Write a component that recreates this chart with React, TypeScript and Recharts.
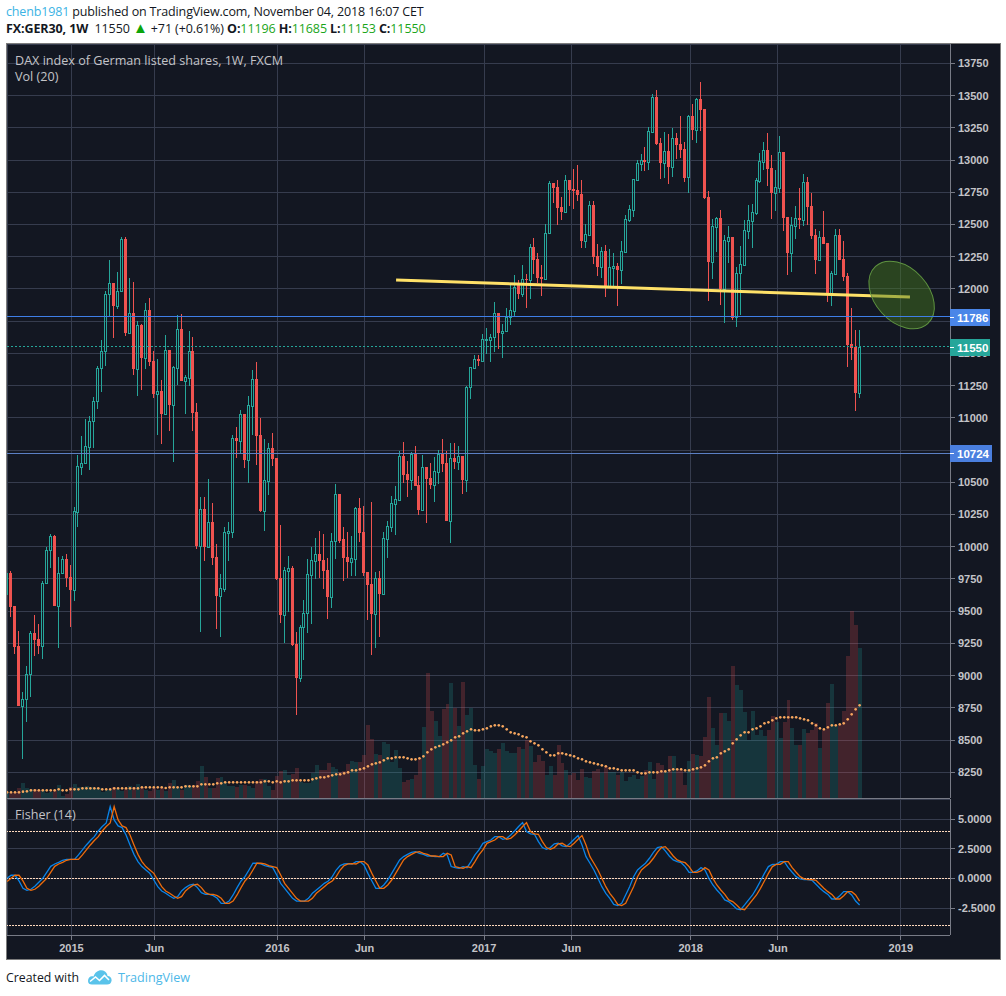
// App.tsx - DAX weekly candles with volume and Fisher panes
import { ComposedChart, Bar, Line, XAxis, YAxis, CartesianGrid, ReferenceLine, ReferenceDot } from 'recharts';

const BG = '#131722';
const GRID = '#363c4e';
const UP = '#26a69a';
const DOWN = '#ef5350';
const AXIS_TEXT = '#c4c4c8';
const AXIS_LINE = '#787b86';

const opens = [
  9636, 9796, 9540, 9230, 8765, 8816, 9010, 9328, 9284, 9233,
  9716, 9972, 10084, 9543, 9794, 9905, 9765, 9667, 10272, 10622,
  10647, 10777, 10973, 11128, 11384, 11516, 11958, 12044, 11870, 11982,
  12388, 11661, 11811, 11379, 11720, 11467, 11834, 11441, 11185, 11208,
  11030, 11527, 11100, 11387, 11689, 11288, 11312, 11519, 11046, 10006,
  10290, 10000, 10192, 9921, 9618, 9672, 10107, 10117, 10844, 10822,
  11030, 10673, 11095, 11299, 10867, 10277, 10513, 10764, 10689, 9758,
  9473, 9815, 9835, 9246, 8982, 9375, 9484, 9784, 9892, 9944,
  9898, 9820, 9613, 10042, 10406, 10060, 9920, 9881, 9907, 10300,
  10114, 9804, 9711, 9479, 9758, 9634, 10063, 10153, 10331, 10365,
  10704, 10564, 10518, 10719, 10479, 10285, 10616, 10533, 10479, 10580,
  10719, 10649, 10200, 10688, 10657, 10704, 10518, 11236, 11386, 11454,
  11443, 11604, 11604, 11624, 11811, 11661, 11671, 11785, 11831, 12033,
  11961, 12075, 12069, 12323, 12232, 12093, 12080, 12431, 12819, 12791,
  12636, 12597, 12843, 12775, 12768, 12737, 12372, 12419, 12651, 12256,
  12170, 12294, 12015, 12163, 12178, 12147, 12289, 12535, 12615, 12848,
  12972, 13000, 12987, 13218, 13487, 13130, 12977, 13070, 12946, 13168,
  13125, 13086, 12866, 13342, 13233, 13474, 13396, 12713, 12209, 12483,
  12550, 12000, 12375, 12400, 11780, 12121, 12188, 12452, 12530, 12592,
  12840, 12985, 13075, 12938, 12747, 12783, 13062, 12558, 12279, 12491,
  12550, 12537, 12830, 12643, 12418, 12225, 12403, 12356, 11961, 12119,
  12418, 12232, 12100, 11573, 11550, 11196,
];

const highs = [
  9800, 9812, 9540, 9347, 8873, 9075, 9347, 9471, 9401, 9734,
  9998, 10099, 10091, 9918, 9928, 9944, 9859, 10306, 10712, 10859,
  10991, 11015, 11159, 11402, 11604, 11984, 12225, 12044, 12132, 12403,
  12403, 12085, 12054, 11752, 11728, 11891, 11930, 11519, 11457, 11294,
  11643, 11527, 11402, 11798, 11806, 11333, 11674, 11627, 11115, 10386,
  10386, 10526, 10340, 10021, 9789, 10153, 10192, 10867, 10929, 11061,
  11030, 11170, 11371, 11433, 10999, 10836, 10803, 10880, 10689, 10169,
  9840, 9928, 9851, 9339, 9395, 9587, 9903, 9998, 10068, 10122,
  10099, 9913, 10107, 10486, 10406, 10153, 10114, 10083, 10308, 10378,
  10316, 9804, 10347, 9804, 9812, 10114, 10200, 10393, 10471, 10743,
  10812, 10665, 10735, 10781, 10549, 10711, 10616, 10649, 10696, 10750,
  10836, 10743, 10805, 10805, 10781, 10704, 11247, 11392, 11487, 11487,
  11650, 11697, 11650, 11898, 11811, 11725, 11852, 12031, 12108, 12069,
  12186, 12116, 12349, 12395, 12279, 12186, 12504, 12837, 12819, 12845,
  12713, 12884, 12843, 12930, 12962, 12845, 12504, 12682, 12682, 12349,
  12325, 12341, 12310, 12279, 12201, 12372, 12574, 12651, 12850, 13000,
  13047, 13101, 13256, 13512, 13543, 13171, 13218, 13202, 13249, 13210,
  13342, 13140, 13352, 13435, 13481, 13605, 13396, 12760, 12543, 12558,
  12612, 12419, 12488, 12400, 12170, 12333, 12535, 12651, 12659, 12861,
  13055, 13140, 13210, 13039, 12923, 13187, 13062, 12558, 12558, 12643,
  12783, 12892, 12868, 12744, 12465, 12450, 12605, 12356, 12139, 12465,
  12465, 12372, 12124, 11852, 11682, 11685,
];

const lows = [
  9630, 9458, 9171, 8765, 8356, 8643, 8835, 9153, 9171, 9129,
  9716, 9835, 9543, 9215, 9794, 9688, 9378, 9582, 10153, 10557,
  10647, 10598, 10766, 11071, 11201, 11402, 11790, 11622, 11847, 11982,
  11635, 11661, 11333, 11170, 11216, 11379, 11402, 11154, 10867, 10797,
  11030, 10898, 10658, 11255, 11286, 11030, 11247, 10898, 9983, 9339,
  9890, 10000, 9859, 9362, 9300, 9649, 9890, 10068, 10689, 10720,
  10611, 10495, 10867, 10634, 10270, 10122, 10402, 10627, 9740, 9409,
  9253, 9494, 9233, 8695, 8950, 9120, 9334, 9401, 9750, 9758,
  9672, 9440, 9525, 9905, 10029, 9735, 9757, 9773, 9773, 10037,
  9773, 9432, 9160, 9215, 9300, 9634, 9913, 10114, 10091, 10365,
  10494, 10386, 10440, 10471, 10246, 10285, 10184, 10448, 10347, 10486,
  10580, 10200, 10029, 10603, 10595, 10409, 10424, 11146, 11386, 11402,
  11443, 11495, 11433, 11511, 11534, 11467, 11671, 11720, 11790, 11922,
  11938, 11852, 11922, 12116, 12046, 11945, 12080, 12431, 12667, 12496,
  12535, 12597, 12643, 12620, 12682, 12318, 12318, 12419, 12194, 12100,
  12085, 11938, 12015, 12015, 11868, 12038, 12289, 12519, 12558, 12848,
  12915, 12915, 12923, 13210, 13117, 12853, 12861, 12814, 12868, 13008,
  13016, 12830, 12744, 13155, 13132, 13225, 12698, 11906, 12077, 12287,
  11875, 11736, 12200, 11759, 11705, 11798, 12188, 12387, 12318, 12574,
  12822, 12923, 12799, 12543, 12605, 12744, 12450, 12108, 12131, 12387,
  12465, 12488, 12496, 12387, 12116, 12225, 12349, 11899, 11868, 12119,
  12225, 12062, 11394, 11449, 11053, 11153,
];

const closes = [
  9796, 9535, 9225, 8765, 8816, 9010, 9328, 9277, 9230, 9719,
  9975, 10084, 9543, 9794, 9905, 9758, 9665, 10275, 10624, 10647,
  10779, 10973, 11128, 11384, 11516, 11958, 12044, 11870, 11982, 12388,
  11661, 11811, 11379, 11718, 11464, 11834, 11433, 11185, 11208, 11030,
  11527, 11100, 11395, 11689, 11286, 11317, 11519, 11038, 10006, 10290,
  10000, 10192, 9913, 9618, 9677, 10114, 10122, 10841, 10820, 11027,
  10673, 11097, 11299, 10859, 10277, 10515, 10764, 10681, 9750, 9471,
  9820, 9835, 9238, 8982, 9375, 9484, 9789, 9898, 9944, 9892,
  9812, 9610, 10042, 10406, 10046, 9912, 9881, 9910, 10298, 10106,
  9796, 9704, 9479, 9755, 9634, 10068, 10161, 10337, 10368, 10704,
  10556, 10518, 10719, 10471, 10285, 10616, 10525, 10479, 10585, 10719,
  10642, 10200, 10686, 10657, 10704, 10518, 11236, 11392, 11454, 11441,
  11609, 11609, 11624, 11811, 11661, 11671, 11785, 11837, 12018, 11961,
  12075, 12069, 12323, 12225, 12085, 12077, 12431, 12819, 12783, 12628,
  12597, 12843, 12768, 12760, 12729, 12372, 12424, 12651, 12248, 12170,
  12294, 12015, 12170, 12178, 12147, 12292, 12540, 12618, 12850, 12974,
  12998, 12985, 13225, 13487, 13125, 12977, 13070, 12946, 13168, 13117,
  13078, 12861, 13342, 13233, 13474, 13388, 12706, 12209, 12488, 12550,
  12000, 12377, 12400, 11775, 12121, 12191, 12455, 12532, 12594, 12845,
  12990, 13075, 12930, 12747, 12788, 13062, 12553, 12279, 12496, 12550,
  12535, 12830, 12636, 12411, 12225, 12403, 12349, 11961, 12124, 12416,
  12225, 12093, 11565, 11542, 11193, 11550,
];

const volumes = [
  15, 15, 18, 29, 45, 30, 28, 26, 24, 24,
  16, 18, 24, 39, 6, 12, 33, 42, 32, 32,
  36, 34, 29, 30, 18, 24, 24, 32, 26, 22,
  28, 36, 34, 42, 33, 24, 21, 29, 24, 30,
  22, 45, 54, 32, 23, 38, 36, 38, 51, 96,
  63, 29, 29, 60, 63, 49, 36, 36, 33, 39,
  39, 36, 31, 51, 57, 57, 36, 24, 66, 81,
  84, 69, 72, 90, 49, 46, 44, 74, 98, 83,
  83, 104, 92, 86, 79, 81, 102, 110, 107, 107,
  129, 219, 177, 132, 129, 168, 162, 108, 144, 91,
  48, 54, 57, 69, 120, 213, 375, 261, 231, 187,
  266, 282, 345, 269, 216, 348, 249, 270, 99, 57,
  96, 147, 141, 135, 147, 165, 141, 135, 135, 153,
  147, 174, 156, 108, 129, 111, 69, 96, 69, 159,
  105, 84, 69, 75, 54, 87, 63, 60, 81, 87,
  75, 96, 78, 78, 69, 78, 51, 63, 69, 57,
  66, 84, 108, 57, 105, 99, 78, 126, 126, 84,
  84, 39, 111, 132, 129, 126, 183, 303, 210, 159,
  255, 255, 231, 396, 339, 324, 258, 174, 261, 189,
  204, 186, 204, 246, 228, 180, 228, 294, 210, 159,
  159, 207, 195, 204, 225, 150, 204, 285, 342, 216,
  222, 261, 426, 561, 519, 450,
];

const volumeMa = [
  17, 17, 17, 17, 19, 20, 23, 23, 23, 23,
  23, 23, 23, 26, 23, 23, 26, 26, 26, 29,
  29, 29, 29, 29, 26, 26, 26, 29, 29, 29,
  29, 29, 29, 29, 32, 32, 32, 32, 32, 32,
  30, 32, 32, 32, 32, 35, 35, 35, 35, 41,
  41, 41, 41, 44, 44, 47, 47, 47, 47, 47,
  47, 47, 47, 47, 47, 50, 50, 47, 50, 47,
  50, 50, 53, 53, 53, 53, 53, 56, 59, 62,
  62, 65, 68, 71, 71, 74, 77, 83, 83, 86,
  89, 95, 101, 104, 107, 113, 119, 119, 122, 122,
  122, 119, 116, 116, 119, 125, 137, 146, 152, 156,
  161, 167, 173, 182, 185, 194, 200, 206, 203, 203,
  206, 209, 215, 218, 218, 215, 206, 197, 194, 191,
  185, 182, 170, 164, 158, 146, 137, 128, 128, 134,
  134, 131, 128, 125, 119, 116, 110, 107, 104, 101,
  98, 95, 89, 89, 86, 83, 83, 83, 83, 77,
  74, 74, 77, 77, 77, 80, 80, 83, 86, 86,
  86, 83, 83, 86, 89, 92, 98, 110, 119, 122,
  134, 140, 146, 164, 176, 188, 197, 197, 206, 209,
  215, 224, 227, 233, 239, 242, 242, 242, 242, 242,
  239, 236, 233, 224, 218, 209, 206, 212, 218, 218,
  221, 224, 236, 251, 266, 278,
];

const fisher = [
  0.02, 0.28, 0.28, -0.2, -0.82, -0.99, -0.9, -0.65, -0.31, 0.02,
  0.53, 1.03, 1.23, 1.37, 1.54, 1.62, 1.62, 1.62, 1.99, 2.41,
  2.83, 3.2, 3.53, 4.01, 4.38, 4.69, 6.06, 4.94, 4.43, 4.29,
  3.67, 2.83, 2.04, 1.43, 1.01, 0.72, 0.44, -0.12, -0.68, -1.04,
  -1.24, -1.47, -1.66, -1.52, -1.04, -0.76, -0.54, -0.48, -0.76, -1.19,
  -1.33, -1.33, -1.44, -1.66, -2.08, -2.08, -1.89, -1.38, -0.76, -0.2,
  0.16, 0.72, 1.29, 1.29, 1.23, 1.09, 1.01, 0.92, 0.3, -0.4,
  -0.82, -1.24, -1.66, -1.89, -1.89, -1.89, -1.66, -1.24, -0.96, -0.68,
  -0.4, -0.2, 0.16, 0.72, 1.09, 1.23, 1.26, 1.23, 1.43, 1.43,
  1.15, 0.44, -0.2, -0.82, -0.82, -0.54, -0.12, 0.44, 1.01, 1.57,
  1.85, 2.04, 2.21, 2.27, 2.13, 2.04, 1.9, 1.9, 1.85, 1.85,
  2.13, 1.99, 1.01, 0.92, 0.87, 1.01, 0.92, 1.43, 1.99, 2.41,
  2.97, 3.11, 3.25, 3.53, 3.53, 3.31, 3.39, 3.67, 4.01, 4.38,
  4.71, 3.96, 3.76, 3.73, 3.11, 2.61, 2.47, 2.61, 2.92, 2.97,
  2.75, 2.69, 2.97, 3.31, 3.62, 2.83, 1.85, 1.29, 0.72, 0.02,
  -0.68, -1.24, -1.66, -2.17, -2.28, -2.08, -1.38, -0.68, 0.16, 0.72,
  1.01, 1.29, 1.71, 2.21, 2.61, 2.69, 2.33, 1.9, 1.57, 1.43,
  1.34, 1.01, 0.53, 0.53, 0.64, 0.92, 0.72, 0.02, -0.54, -0.96,
  -1.33, -1.8, -1.94, -2.22, -2.56, -2.62, -2.22, -1.8, -1.38, -0.82,
  -0.2, 0.44, 1.01, 1.2, 1.2, 1.43, 1.43, 0.92, 0.53, 0.16,
  -0.03, -0.09, -0.09, -0.15, -0.48, -0.82, -1.1, -1.33, -1.72, -1.72,
  -1.44, -1.1, -1.1, -1.38, -1.89, -2.22,
];

const fisherTrigger = [
  -0.25, 0.02, 0.28, 0.28, -0.2, -0.82, -0.99, -0.9, -0.65, -0.31,
  0.02, 0.53, 1.03, 1.23, 1.37, 1.54, 1.62, 1.62, 1.62, 1.99,
  2.41, 2.83, 3.2, 3.53, 4.01, 4.38, 4.69, 6.06, 4.94, 4.43,
  4.29, 3.67, 2.83, 2.04, 1.43, 1.01, 0.72, 0.44, -0.12, -0.68,
  -1.04, -1.24, -1.47, -1.66, -1.52, -1.04, -0.76, -0.54, -0.48, -0.76,
  -1.19, -1.33, -1.33, -1.44, -1.66, -2.08, -2.08, -1.89, -1.38, -0.76,
  -0.2, 0.16, 0.72, 1.29, 1.29, 1.23, 1.09, 1.01, 0.92, 0.3,
  -0.4, -0.82, -1.24, -1.66, -1.89, -1.89, -1.89, -1.66, -1.24, -0.96,
  -0.68, -0.4, -0.2, 0.16, 0.72, 1.09, 1.23, 1.26, 1.23, 1.43,
  1.43, 1.15, 0.44, -0.2, -0.82, -0.82, -0.54, -0.12, 0.44, 1.01,
  1.57, 1.85, 2.04, 2.21, 2.27, 2.13, 2.04, 1.9, 1.9, 1.85,
  1.85, 2.13, 1.99, 1.01, 0.92, 0.87, 1.01, 0.92, 1.43, 1.99,
  2.41, 2.97, 3.11, 3.25, 3.53, 3.53, 3.31, 3.39, 3.67, 4.01,
  4.38, 4.71, 3.96, 3.76, 3.73, 3.11, 2.61, 2.47, 2.61, 2.92,
  2.97, 2.75, 2.69, 2.97, 3.31, 3.62, 2.83, 1.85, 1.29, 0.72,
  0.02, -0.68, -1.24, -1.66, -2.17, -2.28, -2.08, -1.38, -0.68, 0.16,
  0.72, 1.01, 1.29, 1.71, 2.21, 2.61, 2.69, 2.33, 1.9, 1.57,
  1.43, 1.34, 1.01, 0.53, 0.53, 0.64, 0.92, 0.72, 0.02, -0.54,
  -0.96, -1.33, -1.8, -1.94, -2.22, -2.56, -2.62, -2.22, -1.8, -1.38,
  -0.82, -0.2, 0.44, 1.01, 1.2, 1.2, 1.43, 1.43, 0.92, 0.53,
  0.16, -0.03, -0.09, -0.09, -0.15, -0.48, -0.82, -1.1, -1.33, -1.72,
  -1.72, -1.44, -1.1, -1.1, -1.38, -1.89,
];

const priceTicks = [
  8250, 8500, 8750, 9000, 9250, 9500, 9750, 10000, 10250, 10500, 10750, 11000,
  11250, 11500, 11750, 12000, 12250, 12500, 12750, 13000, 13250, 13500, 13750,
];
const fisherTicks = [5, 2.5, 0, -2.5];
// week index of each time axis label
const timeTicks = [16.24, 37.18, 68.2, 90.14, 120.3, 142.3, 172.4, 194.4, 225.4];
const timeLabels = ['2015', 'Jun', '2016', 'Jun', '2017', 'Jun', '2018', 'Jun', '2019'];

const necklineWeeks = [98.1, 227.7];
const necklinePrices = [12070, 11937];
const targetWeek = 225.6;
const targetPrice = 11953;

const rows = opens.map((open, i) => ({
  week: i,
  open,
  close: closes[i],
  range: [lows[i], highs[i]],
  volume: volumes[i],
  volumeMa: volumeMa[i],
  fisher: fisher[i],
  trigger: fisherTrigger[i],
}));

const xDomain = [-0.025, 237.8];
const priceDomain = [8050.6, 13900.6];
const chartFont = '"Liberation Sans", Arial, sans-serif';
const labelFont = '"Open Sans", sans-serif';

function Candle(props: any) {
  const { x, y, width, height, payload } = props;
  const { open, close, range } = payload;
  const pxPerPoint = height / (range[1] - range[0] || 1);
  const toY = (p: number) => Math.round(y + (range[1] - p) * pxPerPoint);
  const c = Math.floor(x + width / 2) + 0.5;
  const isUp = close >= open;
  const color = isUp ? UP : DOWN;
  const top = toY(Math.max(open, close));
  const bottom = toY(Math.min(open, close));
  return (
    <g>
      <line x1={c} x2={c} y1={toY(range[1])} y2={top} stroke={color} />
      <line x1={c} x2={c} y1={bottom} y2={toY(range[0])} stroke={color} />
      {isUp ? (
        <rect x={c - 1} y={top + 0.5} width={2} height={Math.max(bottom - top, 1)} fill="none" stroke={color} />
      ) : (
        <rect x={c - 1.5} y={top} width={3} height={Math.max(bottom - top, 1)} fill={color} />
      )}
    </g>
  );
}

// volume columns touch each other, so snap both edges to whole pixels
function VolumeBar(props: any) {
  const { x, y, width, height, payload } = props;
  const center = x + width / 2;
  const left = Math.round(center - 1.5);
  const right = Math.round(center + 2.465);
  return (
    <rect
      x={left}
      y={y}
      width={right - left}
      height={height}
      fill={payload.close >= payload.open ? UP : DOWN}
      fillOpacity={0.22}
    />
  );
}

function priceTag(text: string, color: string, boxWidth: number) {
  return (props: any) => {
    const { viewBox } = props;
    const left = viewBox.x + viewBox.width;
    const mid = Math.round(viewBox.y);
    return (
      <g>
        <rect x={left} y={mid - 8.5} width={boxWidth} height={17} fill={color} />
        <line x1={left} x2={left + 4} y1={mid + 0.5} y2={mid + 0.5} stroke="#fff" />
        <text x={left + 7} y={mid + 4.5} fill="#fff" fontFamily={chartFont} fontSize={11.5} fontWeight={700}>
          {text}
        </text>
      </g>
    );
  };
}

function TargetEllipse(props: any) {
  const { cx, cy } = props;
  return (
    <ellipse
      cx={cx}
      cy={cy}
      rx={38.7}
      ry={26.7}
      transform={`rotate(47.6 ${cx} ${cy})`}
      fill="rgb(69,123,30)"
      fillOpacity={0.46}
      stroke="#5f9440"
      strokeWidth={1}
      shapeRendering="geometricPrecision"
    />
  );
}

function PriceChart() {
  return (
    <ComposedChart
      width={1006}
      height={800}
      data={rows}
      margin={{ top: 44, right: 14, bottom: 2, left: 7 }}
      style={{ position: 'absolute', left: 0, top: 0, shapeRendering: 'crispEdges' }}
    >
      <XAxis xAxisId="price" dataKey="week" type="number" domain={xDomain} allowDataOverflow ticks={timeTicks} hide />
      <XAxis xAxisId="vol" dataKey="week" type="number" domain={xDomain} allowDataOverflow hide />
      <YAxis yAxisId="vol" domain={[0, 2262]} allowDataOverflow hide />
      <CartesianGrid xAxisId="price" yAxisId="price" stroke={GRID} strokeWidth={1} />
      <YAxis
        yAxisId="price"
        orientation="right"
        width={42}
        domain={priceDomain}
        allowDataOverflow
        ticks={priceTicks}
        interval={0}
        tickSize={5}
        tickMargin={3}
        stroke={AXIS_LINE}
        tickFormatter={(v: number) => (v === 10750 ? '' : String(v))}
        tick={{ fill: AXIS_TEXT, fontSize: 11, fontFamily: chartFont, fontWeight: 700 }}
      />
      <Bar xAxisId="vol" yAxisId="vol" dataKey="volume" barSize={4} shape={VolumeBar} isAnimationActive={false} />
      <Line
        xAxisId="vol"
        yAxisId="vol"
        dataKey="volumeMa"
        stroke="none"
        dot={{ r: 1.3, fill: '#f6a65e', stroke: 'none', shapeRendering: 'geometricPrecision' }}
        isAnimationActive={false}
      />
      <Bar xAxisId="price" yAxisId="price" dataKey="range" barSize={3} shape={Candle} isAnimationActive={false} />
      <ReferenceLine
        yAxisId="price"
        xAxisId="price"
        segment={[
          { x: necklineWeeks[0], y: necklinePrices[0] },
          { x: necklineWeeks[1], y: necklinePrices[1] },
        ]}
        stroke="#ffe168"
        strokeWidth={3}
        shapeRendering="geometricPrecision"
      />
      <ReferenceDot yAxisId="price" xAxisId="price" x={targetWeek} y={targetPrice} r={1} shape={TargetEllipse} />
    </ComposedChart>
  );
}

// the price tags have to cover the axis labels, so they sit in a chart of their own on top
function PriceTags() {
  return (
    <ComposedChart
      width={1006}
      height={800}
      data={rows}
      margin={{ top: 44, right: 56, bottom: 2, left: 7 }}
      style={{ position: 'absolute', left: 0, top: 0, shapeRendering: 'crispEdges' }}
    >
      <XAxis dataKey="week" type="number" domain={xDomain} allowDataOverflow hide />
      <YAxis domain={priceDomain} allowDataOverflow hide />
      <ReferenceLine y={11786} stroke="#3f7fe8" label={priceTag('11786', '#4a86e8', 40)} />
      <ReferenceLine y={11550} stroke={UP} strokeDasharray="2 2" label={priceTag('11550', UP, 40)} />
      <ReferenceLine y={10724} stroke="#5b7fc4" label={priceTag('10724', '#4a7fdf', 42)} />
    </ComposedChart>
  );
}

function FisherChart() {
  return (
    <ComposedChart
      width={1006}
      height={160}
      data={rows}
      margin={{ top: 0, right: 14, bottom: 0, left: 7 }}
      style={{ position: 'absolute', left: 0, top: 799, shapeRendering: 'crispEdges' }}
    >
      <XAxis
        dataKey="week"
        type="number"
        domain={xDomain}
        allowDataOverflow
        ticks={timeTicks}
        interval={0}
        height={24}
        tickSize={5}
        tickMargin={4}
        stroke={AXIS_LINE}
        tickFormatter={(v: number) => timeLabels[timeTicks.indexOf(v)]}
        tick={{ fill: AXIS_TEXT, fontSize: 11, fontFamily: chartFont, fontWeight: 700 }}
      />
      <YAxis
        orientation="right"
        width={42}
        domain={[-4.75, 6.7]}
        allowDataOverflow
        ticks={fisherTicks}
        interval={0}
        tickSize={5}
        tickMargin={3}
        stroke={AXIS_LINE}
        tickFormatter={(v: number) => v.toFixed(4)}
        tick={{ fill: AXIS_TEXT, fontSize: 11, fontFamily: chartFont, fontWeight: 700 }}
      />
      <CartesianGrid stroke={GRID} strokeWidth={1} />
      <ReferenceLine y={3.95} stroke="#ffd9bd" strokeDasharray="2 1" />
      <ReferenceLine y={0} stroke="#ffd9bd" strokeDasharray="2 1" />
      <ReferenceLine y={-3.95} stroke="#ffd9bd" strokeDasharray="2 1" />
      <Line dataKey="fisher" stroke="#0a84e8" strokeWidth={1.3} dot={false} isAnimationActive={false} shapeRendering="geometricPrecision" />
      <Line dataKey="trigger" stroke="#ee6c0c" strokeWidth={1.3} dot={false} isAnimationActive={false} shapeRendering="geometricPrecision" />
    </ComposedChart>
  );
}

function Logo() {
  return (
    <svg width={26} height={17} viewBox="0 0 26 17" style={{ position: 'absolute', left: 87, top: 969 }}>
      <path
        d="M1 12 C1 8 4 6.5 6.5 7.5 C8 2 14 -0.5 18 2.5 C20 4 20.5 6 20.5 7 C23.5 7 25 9.5 24.5 12 C24 14.5 22.5 15.5 20 15.5 L5 15.5 C2.5 15.5 1 14.5 1 12 Z"
        fill="#5ac3ea"
      />
      <path d="M3 12.5 L8.5 8 L12.5 11.5 L17.5 6.5 L22 11" fill="none" stroke="#fff" strokeWidth={1.6} />
    </svg>
  );
}

const paneLabel = {
  position: 'absolute' as const,
  left: 15,
  color: '#c4c4c8',
  font: `12.6px ${labelFont}`,
  lineHeight: '16px',
  whiteSpace: 'nowrap' as const,
};
const headerLine = {
  position: 'absolute' as const,
  left: 6,
  font: `12.5px ${labelFont}`,
  letterSpacing: -0.15,
  lineHeight: '18px',
  color: '#131722',
  whiteSpace: 'nowrap' as const,
};
const greenValue = { color: '#1aa51a' };

export default function App() {
  return (
    <div style={{ position: 'absolute', left: 0, top: 0, width: 1006, height: 996, background: '#fff', overflow: 'hidden' }}>
      <div style={{ ...headerLine, top: 3 }}>
        <span style={{ color: '#3bb3e4' }}>chenb1981</span> published on TradingView.com, November 04, 2018 16:07 CET
      </div>
      <div style={{ ...headerLine, top: 20, letterSpacing: -0.1 }}>
        <b>FX:GER30, 1W</b>&nbsp; 11550 <span style={{ color: '#0ba50b', fontSize: 15, lineHeight: '15px' }}>▲</span> +71 (+0.61%) <b>O:</b>
        <span style={greenValue}>11196</span> <b>H:</b>
        <span style={greenValue}>11685</span> <b>L:</b>
        <span style={greenValue}>11153</span> <b>C:</b>
        <span style={greenValue}>11550</span>
      </div>
      <div style={{ position: 'absolute', left: 6, top: 43, width: 993, height: 915, background: BG, border: '1px solid #7c7c7c' }} />
      <PriceChart />
      <FisherChart />
      <PriceTags />
      <div style={{ position: 'absolute', left: 7, top: 798, width: 943, height: 1, background: AXIS_LINE }} />
      <div style={{ ...paneLabel, top: 53 }}>DAX index of German listed shares, 1W, FXCM</div>
      <div style={{ ...paneLabel, top: 69 }}>Vol (20)</div>
      <div style={{ ...paneLabel, top: 807 }}>Fisher (14)</div>
      <div style={{ position: 'absolute', left: 6, top: 969, font: `12.3px ${labelFont}`, lineHeight: '18px', color: '#131722' }}>Created with</div>
      <Logo />
      <div style={{ position: 'absolute', left: 118, top: 969, font: `12.6px ${labelFont}`, lineHeight: '18px', color: '#4db8e8' }}>TradingView</div>
    </div>
  );
}
